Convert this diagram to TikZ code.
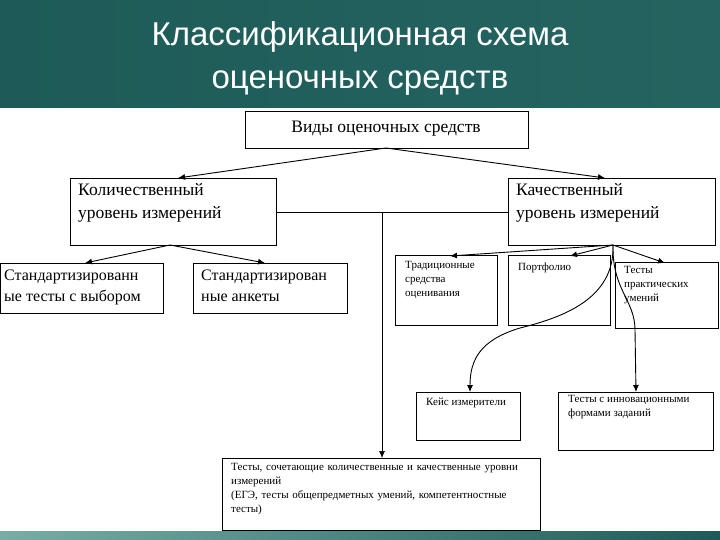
\documentclass[tikz,border=0pt]{standalone}
\usepackage{fontspec}
\setmainfont{Liberation Serif}
\newfontfamily\hdr{Liberation Sans}
\usetikzlibrary{arrows.meta}
\definecolor{teal1}{HTML}{1E5B58}
\definecolor{teal2}{HTML}{3C8A80}
\begin{document}
\begin{tikzpicture}[x=1pt,y=-1pt,
  bx/.style={draw,line width=0.9pt,fill=white},
  tx/.style={anchor=north west,align=left,inner sep=0pt,font=\fontsize{17.5}{23}\selectfont},
  sx/.style={anchor=north west,align=left,inner sep=0pt,font=\fontsize{11}{14}\selectfont},
  ar/.style={-{Latex[length=7pt,width=6pt]},line width=0.9pt}]
\useasboundingbox (0,0) rectangle (720,540);
\shade[left color=teal1,right color=teal1!80!teal2] (0,0) rectangle (720,108);
\shade[left color=teal2!70!white,right color=teal1] (0,531) rectangle (720,540);
\node[font=\hdr\fontsize{33}{43}\selectfont,text=white,align=center] (title) at (360,58) {Классификационная схема\\оценочных средств};
% boxes
\draw[bx] (245,111) rectangle (528,148); \coordinate (topb) at (386,148);
\node[font=\fontsize{17.5}{21}\selectfont] (t0) at (386,129) {Виды оценочных средств};
\draw[bx] (70,178) rectangle (276,245); \node[tx] (t1) at (78,183) {Количественный\\уровень измерений};
\draw[bx] (508,178) rectangle (715,245); \node[tx] (t2) at (516,183) {Качественный\\уровень измерений};
\draw[bx] (0,263) rectangle (163,313); \node[tx,font=\fontsize{16}{21}\selectfont] (t3) at (4,270) {Стандартизированн\\ые тесты с выбором};
\draw[bx] (193,263) rectangle (347,313); \node[tx,font=\fontsize{16}{21}\selectfont] (t4) at (201,270) {Стандартизирован\\ные анкеты};
\draw[bx] (395,255) rectangle (497,325); \node[sx] (t5) at (405,261) {Традиционные\\средства\\оценивания};
\draw[bx] (508,255) rectangle (610,325); \node[sx] (t6) at (518,263) {Портфолио};
\draw[bx] (615,262) rectangle (718,328); \node[sx] (t7) at (624,266) {Тесты\\практических\\умений};
\draw[bx] (416,392) rectangle (520,440); \node[sx] (t8) at (426,398) {Кейс измерители};
\draw[bx] (558,392) rectangle (713,450); \node[sx] (t9) at (568,395) {Тесты с инновационными\\формами заданий};
\draw[bx] (222,458) rectangle (540,530);
\node[sx,text width=305pt] (t10) at (231,463) {Тесты, сочетающие количественные и качественные уровни измерений\\(ЕГЭ, тесты общепредметных умений, компетентностные тесты)};
% connectors
\draw[ar] (topb) -- (178,178);
\draw[ar] (topb) -- (605,178);
\draw[ar] (170,245) -- (85,263);
\draw[ar] (170,245) -- (265,263);
\draw[ar] (613,245) -- (450,256);
\draw[ar] (613,245) -- (570,256);
\draw[ar] (613,245) -- (665,263);
\draw[line width=0.6pt] (276,212) -- (508,212);
\draw[ar,line width=0.6pt] (382,212) -- (382,458);
\draw[ar] (613,245) .. controls (615,300) and (560,318) .. (520,328) .. controls (480,340) and (470,360) .. (470,392);
\draw[ar] (613,245) .. controls (612,290) and (635,300) .. (635,330) -- (636,392);
\end{tikzpicture}
\end{document}
